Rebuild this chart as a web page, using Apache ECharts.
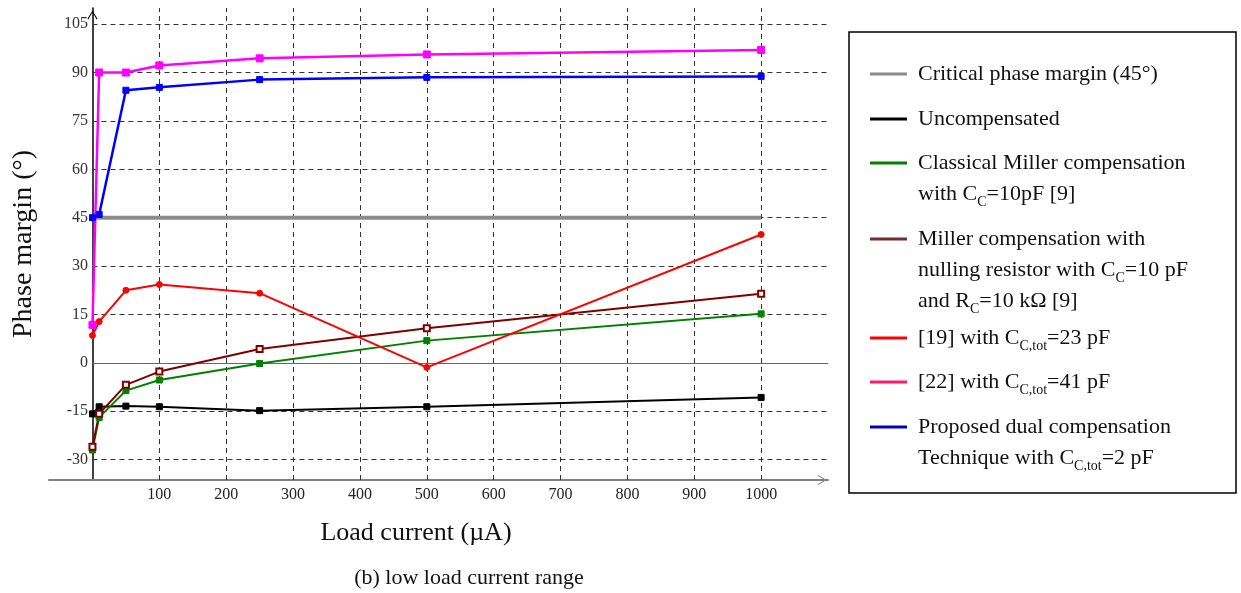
<!DOCTYPE html>
<html><head><meta charset="utf-8">
<script src="https://cdn.jsdelivr.net/npm/echarts@6/dist/echarts.min.js"></script>
<style>html,body{margin:0;padding:0;background:#fff}#c{width:1241px;height:593px}</style>
</head><body><div id="c"></div>
<script>
// ---- data ----
const loadCurrent = [0, 10, 50, 100, 250, 500, 1000];
const uncompensated = [-15.8, -13.6, -13.4, -13.6, -14.8, -13.6, -10.7];
const classicalMiller = [-27, -16.9, -8.6, -5.3, -0.2, 6.9, 15.2];
const nullingResistor = [-26, -15.8, -6.8, -2.7, 4.3, 10.7, 21.4];
const ref19 = [8.5, 12.8, 22.5, 24.3, 21.6, -1.4, 39.8];
const ref22 = [11.8, 90, 90, 92.2, 94.4, 95.6, 97];
const proposed = [45, 46, 84.5, 85.4, 87.8, 88.5, 88.8];
const criticalX = [0, 1000];
const criticalY = [45, 45];
const xTicks = [100, 200, 300, 400, 500, 600, 700, 800, 900, 1000];
const yTicks = [-30, -15, 0, 15, 30, 45, 60, 75, 90, 105];

// ---- layout ----
const FONT = 'Liberation Serif';
const xMin = -65, xMax = 1100, yMin = -36.3, yMax = 110;
const chevron = 'path://M0,0 L6,10 L5,10.8 L0,2 L-5,10.8 L-6,10 Z';

const pairs = (xs, ys) => xs.map((x, i) => [x, ys[i]]);

const hGrid = yTicks.filter(v => v !== 0).map(v => [{coord: [0, v]}, {coord: [xMax, v]}]);
const vGrid = xTicks.map(x => [{coord: [x, yMin]}, {coord: [x, yMax]}]);
const zeroStyle = {type: 'solid', color: '#666', width: 1};
const zeroLine = [{coord: [0, 0], lineStyle: zeroStyle}, {coord: [xMax, 0], lineStyle: zeroStyle}];

const rich = {
  n: {fontSize: 22, fontFamily: FONT, lineHeight: 31, color: '#111'},
  s: {fontSize: 14, fontFamily: FONT, lineHeight: 20, verticalAlign: 'bottom', color: '#111'}
};
const legendItems = [
  {name: 'Critical', color: '#8c8c8c', top: 58.5, text: '{n|Critical phase margin (45°)}'},
  {name: 'Uncompensated', color: '#000', top: 103.5, text: '{n|Uncompensated}'},
  {name: 'Classical', color: '#008000', top: 116.5, text: '{n| }\n{n|Classical Miller compensation}\n{n|with C}{s|C}{n|=10pF [9]}'},
  {name: 'Nulling', color: '#7a2a2a', top: 161.5, text: '{n| }\n{n| }\n{n|Miller compensation with}\n{n|nulling resistor with C}{s|C}{n|=10 pF}\n{n|and R}{s|C}{n|=10 kΩ [9]}'},
  {name: 'Ref19', color: '#ff0000', top: 322.5, text: '{n|[19] with C}{s|C,tot}{n|=23 pF}'},
  {name: 'Ref22', color: '#ff1a70', top: 366.5, text: '{n|[22] with C}{s|C,tot}{n|=41 pF}'},
  {name: 'Proposed', color: '#0000c8', top: 380.5, text: '{n| }\n{n|Proposed dual compensation}\n{n|Technique with C}{s|C,tot}{n|=2 pF}'}
];
const legends = legendItems.map(it => ({
  left: 870, top: it.top, padding: 0, orient: 'vertical', icon: 'rect',
  itemWidth: 37, itemHeight: 3, selectedMode: false,
  data: [{name: it.name, itemStyle: {color: it.color}}],
  formatter: () => it.text,
  textStyle: {rich: rich, padding: [0, 0, 0, 6], lineHeight: 31, fontFamily: FONT, fontSize: 22}
}));

function lineSeries(name, ys, color, symbol, size, width) {
  return {
    name: name, type: 'line', z: 3, data: pairs(loadCurrent, ys), color: color,
    symbol: symbol, symbolSize: size, showSymbol: true,
    lineStyle: {color: color, width: width}, itemStyle: {color: color, borderColor: color},
    emphasis: {disabled: true}
  };
}

const chart = echarts.init(document.getElementById('c'), null, {renderer: 'canvas'});
chart.setOption({
  animation: false,
  backgroundColor: '#fff',
  grid: {left: 49, right: 413, top: 8, bottom: 113, containLabel: false, outerBoundsMode: 'none'},
  legend: legends,
  xAxis: {
    type: 'value', min: xMin, max: xMax,
    axisLine: {onZero: false, lineStyle: {color: '#808080', width: 2},
      symbol: ['none', chevron], symbolSize: [10, 13], symbolOffset: [0, -6]},
    axisTick: {show: false},
    splitLine: {show: false},
    axisLabel: {customValues: xTicks, formatter: v => String(v), fontSize: 16, fontFamily: FONT, color: '#222', margin: 7}
  },
  yAxis: {
    type: 'value', min: yMin, max: yMax,
    name: 'Phase margin (°)', nameLocation: 'middle', nameRotate: 90, nameGap: 11,
    nameTextStyle: {fontSize: 28, fontFamily: FONT, color: '#111'},
    axisLine: {onZero: true, lineStyle: {color: '#000', width: 1.5},
      symbol: ['none', chevron], symbolSize: [10, 15], symbolOffset: [0, -7]},
    axisTick: {show: false},
    splitLine: {show: false},
    axisLabel: {customValues: yTicks, formatter: v => String(v), fontSize: 16, fontFamily: FONT, color: '#333', margin: -39}
  },
  graphic: [
    {type: 'rect', shape: {x: 849, y: 32, width: 387, height: 461},
      style: {fill: 'none', stroke: '#000', lineWidth: 1.5}, silent: true, z: -1},
    {type: 'text', x: 416, y: 533, style: {text: 'Load current (µA)', font: '26px "Liberation Serif"',
      fill: '#111', textAlign: 'center', textVerticalAlign: 'middle'}},
    {type: 'text', x: 469, y: 578, style: {text: '(b) low load current range', font: '22px "Liberation Serif"',
      fill: '#111', textAlign: 'center', textVerticalAlign: 'middle'}}
  ],
  series: [
    {
      name: 'gridlines', type: 'line', z: 1, data: [], silent: true,
      markLine: {
        z: 1, silent: true, symbol: ['none', 'none'], label: {show: false}, animation: false,
        lineStyle: {type: [5, 4], color: '#333', width: 1},
        emphasis: {disabled: true},
        data: hGrid.concat(vGrid).concat([zeroLine])
      }
    },
    {
      name: 'Critical', type: 'line', z: 2, data: pairs(criticalX, criticalY), showSymbol: false, symbol: 'none',
      color: '#8c8c8c', lineStyle: {color: '#8c8c8c', width: 4}, emphasis: {disabled: true}
    },
    lineSeries('Uncompensated', uncompensated, '#000000', 'rect', 6, 2),
    lineSeries('Classical', classicalMiller, '#008000', 'rect', 6, 2),
    lineSeries('Nulling', nullingResistor, '#800000', 'emptyRect', 6, 2),
    lineSeries('Ref19', ref19, '#ff0000', 'circle', 6, 2),
    lineSeries('Ref22', ref22, '#ff00ff', 'rect', 7, 2.5),
    lineSeries('Proposed', proposed, '#0000ff', 'rect', 6, 2.5)
  ]
});
</script>
</body></html>
